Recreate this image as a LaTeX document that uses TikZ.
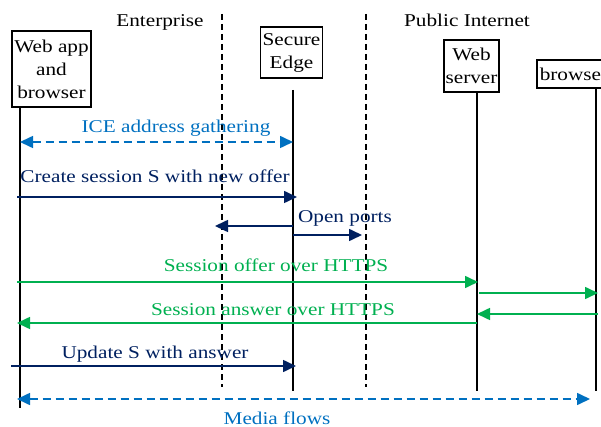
\documentclass[tikz,border=0pt]{standalone}
\usepackage{fontspec}
\setmainfont{Liberation Serif}[FakeStretch=1.18]
\usetikzlibrary{arrows.meta}
\definecolor{iceblue}{RGB}{0,112,192}
\definecolor{navyc}{RGB}{0,32,96}
\definecolor{sgreen}{RGB}{0,176,80}
\begin{document}
\begin{tikzpicture}[x=1pt,y=-1pt, font=\fontsize{18}{23}\selectfont,
  box/.style={draw, line width=1.5pt, align=center, inner sep=0pt},
  life/.style={line width=1.6pt},
  sepline/.style={line width=1.4pt, dash pattern=on 6pt off 4pt},
  tip/.tip={Triangle[length=13pt,width=12pt]},
  msg/.style={line width=1.6pt, -tip},
  both/.style={line width=1.6pt, tip-tip, dash pattern=on 8pt off 5pt},
  lab/.style={anchor=base, inner sep=0pt}
]
\useasboundingbox (0,0) rectangle (601,427);

% headings
\node[lab] (ent) at (160,27) {Enterprise};
\node[lab] (pub) at (467,27) {Public Internet};

% boxes
\node[box, minimum width=79pt, minimum height=76pt] (webapp) at (51.5,69) {Web app\\and\\browser};
\node[box, minimum width=62pt, minimum height=51pt] (edge) at (291.5,52.5) {Secure\\Edge};
\node[box, minimum width=55pt, minimum height=52pt] (wserv) at (471.5,66) {Web\\server};
\node[box, minimum width=74pt, minimum height=28pt] (brow) at (574,74) {browser};

% lifeline coordinates
\coordinate (l1a) at (20,107);  \coordinate (l1b) at (20,408);
\coordinate (l2a) at (293,90);  \coordinate (l2b) at (293,391);
\coordinate (l3a) at (477,92);  \coordinate (l3b) at (477,391);
\coordinate (l4a) at (596,88);  \coordinate (l4b) at (596,391);
\coordinate (d1a) at (222,14);  \coordinate (d1b) at (222,387);
\coordinate (d2a) at (366,14);  \coordinate (d2b) at (366,387);

\draw[life] (l1a) -- (l1b);
\draw[life] (l2a) -- (l2b);
\draw[life] (l3a) -- (l3b);
\draw[life] (l4a) -- (l4b);
\draw[sepline] (d1a) -- (d1b);
\draw[sepline] (d2a) -- (d2b);

% ICE
\coordinate (ice1) at (20,142); \coordinate (ice2) at (293,142);
\draw[both, iceblue] (ice1) -- (ice2);
\node[lab, text=iceblue] (icel) at (176,133) {ICE address gathering};

% Create session
\coordinate (cs1) at (17,197); \coordinate (cs2) at (297,197);
\draw[msg, navyc] (cs1) -- (cs2);
\node[lab, text=navyc] (csl) at (155,183) {Create session S with new offer};

% Open ports
\coordinate (op0) at (293,226); \coordinate (op1) at (215,226);
\coordinate (op2) at (293,235); \coordinate (op3) at (362,235);
\draw[msg, navyc] (op0) -- (op1);
\draw[msg, navyc] (op2) -- (op3);
\node[lab, text=navyc] (opl) at (345,223) {Open ports};

% Session offer
\coordinate (so1) at (17,282); \coordinate (so2) at (478,282);
\draw[msg, sgreen] (so1) -- (so2);
\node[lab, text=sgreen] (sol) at (276,271) {Session offer over HTTPS};
\coordinate (sb1) at (479,293); \coordinate (sb2) at (598,293);
\draw[msg, sgreen] (sb1) -- (sb2);
\coordinate (sr1) at (598,314); \coordinate (sr2) at (477,314);
\draw[msg, sgreen] (sr1) -- (sr2);

% Session answer
\coordinate (sa1) at (477,323); \coordinate (sa2) at (17,323);
\draw[msg, sgreen] (sa1) -- (sa2);
\node[lab, text=sgreen] (sal) at (273,315) {Session answer over HTTPS};

% Update
\coordinate (up1) at (11,366); \coordinate (up2) at (296,366);
\draw[msg, navyc] (up1) -- (up2);
\node[lab, text=navyc] (upl) at (155,358) {Update S with answer};

% Media flows
\coordinate (mf1) at (17,399); \coordinate (mf2) at (590,399);
\draw[both, iceblue] (mf1) -- (mf2);
\node[lab, text=iceblue] (mfl) at (277,424) {Media flows};
\end{tikzpicture}
\end{document}
